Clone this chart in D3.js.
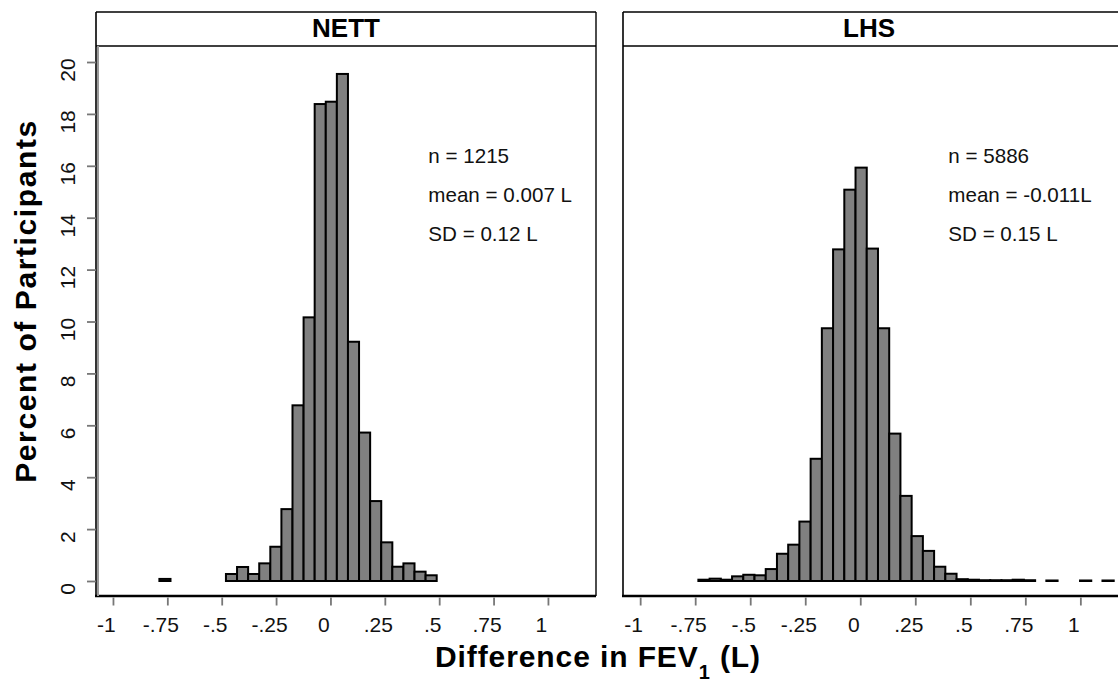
<!DOCTYPE html>
<html>
<head>
<meta charset="utf-8">
<script src="https://cdn.jsdelivr.net/npm/d3@7"></script>
<style>
  html, body { margin: 0; padding: 0; background: #fff; }
  svg { display: block; font-family: "Liberation Sans", Arial, Helvetica, sans-serif; }
</style>
</head>
<body>
<svg id="chart" width="1118" height="684"></svg>
<script>
// ---- data (percent of participants per bin) ----
const binWidth = 0.051;
const nettCenters = [-0.761, -0.455, -0.404, -0.353, -0.302, -0.251, -0.200, -0.149, -0.098, -0.047,
                     0.004, 0.055, 0.106, 0.157, 0.208, 0.259, 0.310, 0.361, 0.412, 0.463];
const nettPercent = [0.08, 0.27, 0.54, 0.27, 0.68, 1.32, 2.77, 6.77, 10.16, 18.38,
                     18.47, 19.54, 9.22, 5.72, 3.08, 1.49, 0.55, 0.68, 0.36, 0.22];
const lhsCenters = [-0.710, -0.659, -0.608, -0.557, -0.506, -0.455, -0.404, -0.353, -0.302, -0.251,
                    -0.200, -0.149, -0.098, -0.047, 0.004, 0.055, 0.106, 0.157, 0.208, 0.259,
                    0.310, 0.361, 0.412, 0.463, 0.514, 0.565, 0.616, 0.667, 0.718, 0.769,
                    0.871, 1.024, 1.126];
const lhsPercent = [0.05, 0.09, 0.05, 0.18, 0.24, 0.22, 0.46, 1.05, 1.40, 2.29,
                    4.71, 9.74, 12.78, 15.08, 15.93, 12.81, 9.74, 5.68, 3.28, 1.73,
                    1.16, 0.55, 0.28, 0.07, 0.05, 0.03, 0.03, 0.03, 0.05, 0.03,
                    0.02, 0.02, 0.02];
const xTickValues = [-1, -0.75, -0.5, -0.25, 0, 0.25, 0.5, 0.75, 1];
const xTickLabels = ["-1", "-.75", "-.5", "-.25", "0", ".25", ".5", ".75", "1"];
const yTickValues = [0, 2, 4, 6, 8, 10, 12, 14, 16, 18, 20];
const panelTitles = ["NETT", "LHS"];
const nettStats = ["n = 1215", "mean = 0.007 L", "SD = 0.12 L"];
const lhsStats = ["n = 5886", "mean = -0.011L", "SD = 0.15 L"];

(function () {
// ---- layout ----
const svg = d3.select("#chart");
const frameTop = 12, stripBottom = 46, frameBottom = 596;
const xDomain = [-1.078, 1.221];
const yScale = d3.scaleLinear().domain([-0.578, 20.617]).range([frameBottom, stripBottom]);

const panels = [
  { title: panelTitles[0], x0: 96, x1: 596, titleX: 346, centers: nettCenters, values: nettPercent,
    stats: nettStats, statX: 0.45, yAxis: true },
  { title: panelTitles[1], x0: 623, x1: 1129, titleX: 869, centers: lhsCenters, values: lhsPercent,
    stats: lhsStats, statX: 0.40, yAxis: false }
];
const statY = [16.1, 14.6, 13.1];

panels.forEach(p => {
  const x = d3.scaleLinear().domain(xDomain).range([p.x0, p.x1]);
  const g = svg.append("g");

  // bars
  g.selectAll("rect.bar")
    .data(p.centers.map((c, i) => ({ c, v: p.values[i] })))
    .join("rect")
    .attr("class", "bar")
    .attr("x", d => x(d.c - binWidth / 2))
    .attr("width", d => x(d.c + binWidth / 2) - x(d.c - binWidth / 2))
    .attr("y", d => yScale(d.v))
    .attr("height", d => yScale(0) - yScale(d.v))
    .attr("fill", "#808080")
    .attr("stroke", "#000")
    .attr("stroke-width", 2);

  // stats text
  g.selectAll("text.stat")
    .data(p.stats)
    .join("text")
    .attr("class", "stat")
    .attr("x", x(p.statX))
    .attr("y", (d, i) => yScale(statY[i]))
    .attr("font-size", 20.6)
    .attr("fill", "#111")
    .text(d => d);

  // frame
  g.append("line").attr("x1", p.x0).attr("x2", p.x1).attr("y1", frameTop).attr("y2", frameTop)
    .attr("stroke", "#000").attr("stroke-width", 1.6);
  g.append("line").attr("x1", p.x0).attr("x2", p.x1).attr("y1", stripBottom).attr("y2", stripBottom)
    .attr("stroke", "#000").attr("stroke-width", 1.4);
  g.append("line").attr("x1", p.x0).attr("x2", p.x0).attr("y1", frameTop).attr("y2", frameBottom)
    .attr("stroke", "#000").attr("stroke-width", 1.6);
  g.append("line").attr("x1", p.x1).attr("x2", p.x1).attr("y1", frameTop).attr("y2", frameBottom)
    .attr("stroke", "#000").attr("stroke-width", 1.4);
  g.append("line").attr("x1", p.x0 - 1).attr("x2", p.x1).attr("y1", frameBottom).attr("y2", frameBottom)
    .attr("stroke", "#000").attr("stroke-width", 2.6);

  // strip title
  g.append("text")
    .attr("x", p.titleX).attr("y", 37)
    .attr("text-anchor", "middle")
    .attr("font-size", 26).attr("font-weight", "bold")
    .text(p.title);

  // x axis
  const xa = g.append("g")
    .attr("transform", `translate(0,${frameBottom + 1.5})`)
    .call(d3.axisBottom(x).tickValues(xTickValues)
      .tickFormat((d, i) => xTickLabels[i]).tickSize(8).tickPadding(12));
  xa.select(".domain").remove();
  xa.selectAll(".tick line").attr("stroke", "#777").attr("stroke-width", 1.8);
  xa.selectAll(".tick text")
    .attr("font-size", 21).attr("fill", "#111").attr("dx", -7)
    .attr("font-family", "Liberation Sans, Arial, sans-serif");

  // y axis (left panel only)
  if (p.yAxis) {
    g.append("line").attr("x1", p.x0 + 2).attr("x2", p.x0 + 2)
      .attr("y1", stripBottom).attr("y2", frameBottom)
      .attr("stroke", "#999").attr("stroke-width", 2);
    const ya = g.append("g")
      .attr("transform", `translate(${p.x0},0)`)
      .call(d3.axisLeft(yScale).tickValues(yTickValues).tickSize(9).tickFormat(d3.format("d")));
    ya.select(".domain").remove();
    ya.selectAll(".tick line").attr("stroke", "#777").attr("stroke-width", 1.8);
    ya.selectAll(".tick text")
      .attr("x", null).attr("dy", null)
      .attr("text-anchor", "middle")
      .attr("transform", "translate(-21,0) rotate(-90)")
      .attr("dx", -7.5)
      .attr("font-size", 21).attr("fill", "#111")
      .attr("font-family", "Liberation Sans, Arial, sans-serif");
  }
});

// axis titles
svg.append("text")
  .attr("transform", "translate(36,301) rotate(-90)")
  .attr("text-anchor", "middle")
  .attr("font-size", 30).attr("font-weight", "bold")
  .attr("letter-spacing", 1.6)
  .text("Percent of Participants");

const xt = svg.append("text")
  .attr("x", 598).attr("y", 667)
  .attr("text-anchor", "middle")
  .attr("font-size", 30).attr("font-weight", "bold")
  .attr("letter-spacing", 0.9);
xt.append("tspan").text("Difference in FEV");
xt.append("tspan").attr("font-size", 20).attr("dy", 12).text("1");
xt.append("tspan").attr("dy", -12).text(" (L)");
})();
</script>
</body>
</html>
